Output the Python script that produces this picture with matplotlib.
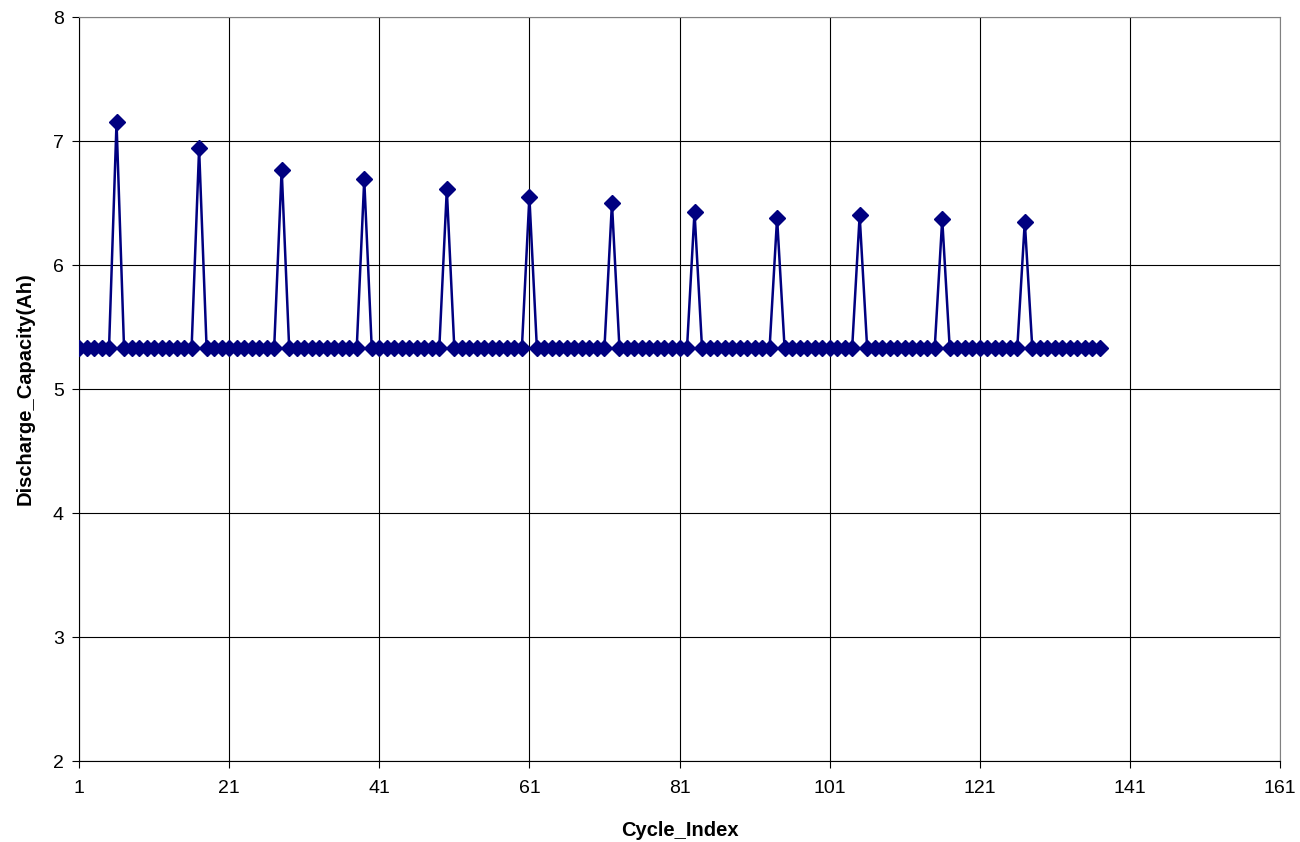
import matplotlib
matplotlib.use("Agg")
import matplotlib.pyplot as plt
import numpy as np

plt.rcParams['font.family'] = ['Liberation Sans', 'DejaVu Sans']

n_cycles = 137
baseline = 5.33
spike_cycles = [6, 17, 28, 39, 50, 61, 72, 83, 94, 105, 116, 127]
spike_values = [7.15, 6.94, 6.77, 6.69, 6.61, 6.55, 6.50, 6.43, 6.38, 6.40, 6.37, 6.35]
x_ticks = [1, 21, 41, 61, 81, 101, 121, 141, 161]
y_ticks = [2, 3, 4, 5, 6, 7, 8]

cycles = list(range(1, n_cycles + 1))
capacity = [baseline] * n_cycles
for c, v in zip(spike_cycles, spike_values):
    capacity[c - 1] = v

fig = plt.figure(figsize=(13, 8.42), dpi=100)
ax = fig.add_axes([79/1300, 1 - 761/842, (1280-79)/1300, (761-17)/842])

ax.plot(cycles, capacity, color='#000080', lw=1.8, marker='D', markersize=8.5,
        markerfacecolor='#000080', markeredgecolor='#000080', zorder=3)

ax.set_xlim(1, 161)
ax.set_ylim(2, 8)
ax.set_xticks(x_ticks)
ax.set_yticks(y_ticks)
ax.grid(True, color='black', lw=0.8)
ax.set_axisbelow(True)
for s in ['top', 'right']:
    ax.spines[s].set_color('#808080')
for s in ['left', 'bottom']:
    ax.spines[s].set_color('black')
ax.tick_params(direction='out', length=5, width=0.8, labelsize=14)
ax.tick_params(axis='x', pad=9)
ax.tick_params(axis='y', pad=6)
ax.set_xlabel('Cycle_Index', fontsize=14.5, fontweight='bold')
ax.set_ylabel('Discharge_Capacity(Ah)', fontsize=14.5, fontweight='bold')
ax.xaxis.set_label_coords(0.5, -0.094)
ax.yaxis.set_label_coords(-0.045, 0.5)
ax.xaxis.label.set_va('center')
ax.yaxis.label.set_va('center')

fig.savefig('out.png', dpi=100)
